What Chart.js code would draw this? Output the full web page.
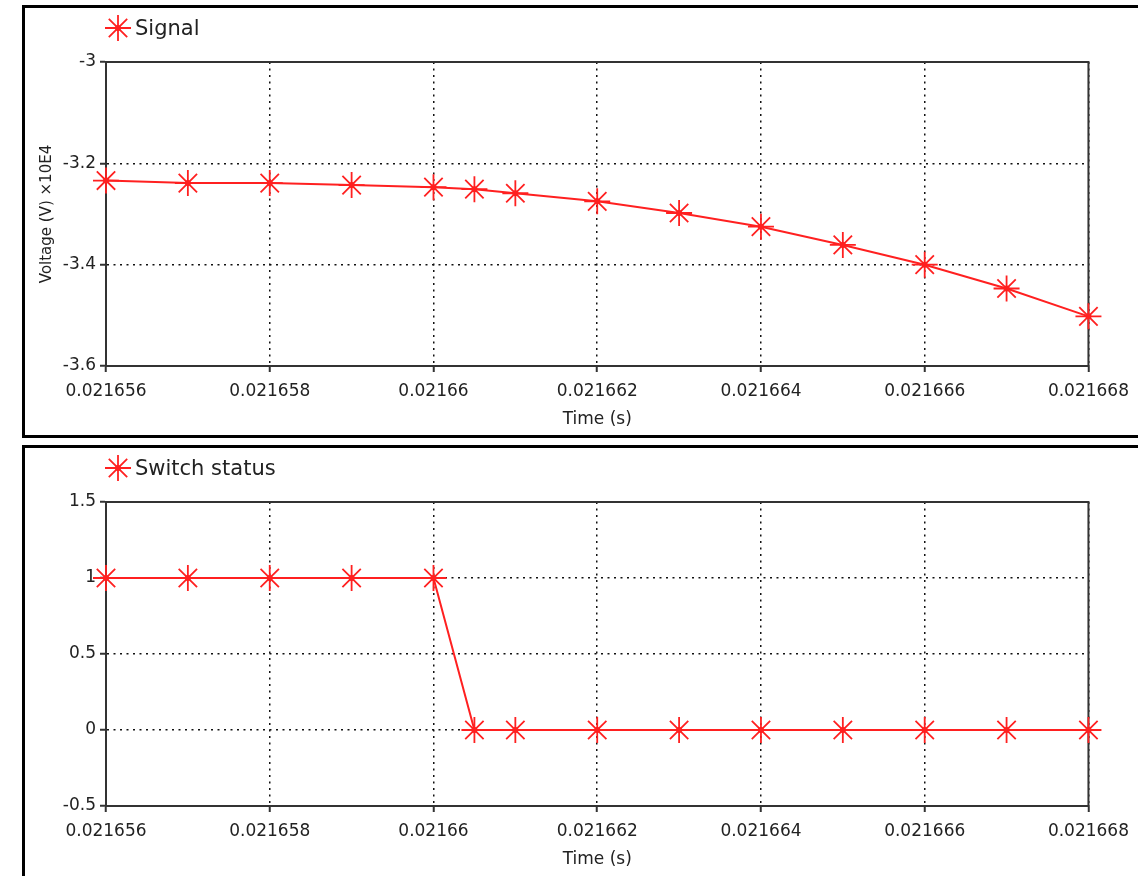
<!DOCTYPE html>
<html>
<head>
<meta charset="utf-8">
<script src="https://cdn.jsdelivr.net/npm/chart.js@4"></script>
<style>
  html, body { margin: 0; padding: 0; background: #fff; overflow: hidden; width: 1138px; height: 876px; }
  .frame { position: absolute; border: 3px solid #000; box-sizing: border-box; }
  canvas { position: absolute; left: 0; }
</style>
</head>
<body>
<div class="frame" style="left:22px;top:5px;width:1130px;height:433px"></div>
<div class="frame" style="left:22px;top:445px;width:1130px;height:440px"></div>
<canvas id="signal" width="1138" height="440" style="top:0"></canvas>
<canvas id="switch" width="1138" height="440" style="top:440px"></canvas>
<script>
// values
const time = [0.021656, 0.021657, 0.021658, 0.021659, 0.02166, 0.0216605, 0.021661,
              0.021662, 0.021663, 0.021664, 0.021665, 0.021666, 0.021667, 0.021668];
const signal = [-3.234, -3.239, -3.239, -3.243, -3.247, -3.251, -3.259,
                -3.275, -3.298, -3.325, -3.361, -3.400, -3.447, -3.502];
const switchStatus = [1, 1, 1, 1, 1, 0, 0, 0, 0, 0, 0, 0, 0, 0];

const timeTicks = [0.021656, 0.021658, 0.02166, 0.021662, 0.021664, 0.021666, 0.021668];
const signalTicks = [-3.6, -3.4, -3.2, -3];
const switchTicks = [-0.5, 0, 0.5, 1, 1.5];

const RED = '#ff2020';
const INK = '#222';

Chart.defaults.font.family = "'DejaVu Sans', Verdana, sans-serif";
Chart.defaults.color = INK;

// solid box round the plot, drawn over the dotted grid
const boxPlugin = {
  id: 'box',
  beforeDatasetsDraw(chart) {
    const { ctx, chartArea: a } = chart;
    ctx.save();
    ctx.strokeStyle = '#333';
    ctx.lineWidth = 2;
    ctx.setLineDash([]);
    ctx.strokeRect(a.left, a.top, a.right - a.left, a.bottom - a.top);
    ctx.restore();
  },
  afterDatasetsDraw(chart) {
    // small filled dot in the middle of every star
    const { ctx } = chart;
    ctx.save();
    ctx.fillStyle = RED;
    chart.getDatasetMeta(0).data.forEach(p => {
      ctx.beginPath();
      ctx.arc(p.x, p.y, 3, 0, Math.PI * 2);
      ctx.fill();
    });
    ctx.restore();
  },
  afterDraw(chart) {
    // legend in the top-left corner of the panel
    const { ctx } = chart;
    const label = chart.data.datasets[0].label;
    ctx.save();
    ctx.strokeStyle = RED;
    ctx.fillStyle = RED;
    Chart.helpers.drawPoint(ctx, { pointStyle: 'star', radius: 13, borderWidth: 1.8, rotation: 0 }, 118, 28);
    ctx.beginPath();
    ctx.arc(118, 28, 3, 0, Math.PI * 2);
    ctx.fill();
    ctx.fillStyle = INK;
    ctx.font = "21px 'DejaVu Sans', Verdana, sans-serif";
    ctx.textBaseline = 'middle';
    ctx.fillText(label, 135, 30);
    ctx.restore();
  }
};

const gridOpts = {
  color: '#111',
  lineWidth: 1.5,
  tickLength: 6,
  tickWidth: 2,
  tickColor: '#333',
  tickBorderDash: []
};

function makePanel(id, label, values, yTicks, yTitle) {
  return new Chart(document.getElementById(id), {
    type: 'line',
    data: {
      datasets: [{
        label: label,
        data: time.map((t, i) => ({ x: t, y: values[i] })),
        borderColor: RED,
        backgroundColor: RED,
        borderWidth: 2,
        tension: 0,
        pointStyle: 'star',
        pointRadius: 13,
        pointBorderWidth: 1.8,
        pointBorderColor: RED,
        clip: false
      }]
    },
    options: {
      responsive: false,
      animation: false,
      layout: { padding: { top: 62, right: 48, left: 0, bottom: 0 } },
      plugins: { legend: { display: false }, tooltip: { enabled: false } },
      scales: {
        x: {
          type: 'linear',
          min: timeTicks[0],
          max: timeTicks[timeTicks.length - 1],
          afterBuildTicks: s => { s.ticks = timeTicks.map(v => ({ value: v })); },
          afterFit: s => { s.height = 74; },
          ticks: {
            font: { size: 17 },
            padding: 9,
            maxRotation: 0,
            autoSkip: false,
            callback: v => Number(v.toFixed(7)).toString()
          },
          grid: gridOpts,
          border: { display: true, color: '#333', width: 2, dash: [2, 4.5] },
          title: {
            display: true,
            text: 'Time (s)',
            font: { size: 17 },
            padding: { top: 0, bottom: 10 }
          }
        },
        y: {
          min: yTicks[0],
          max: yTicks[yTicks.length - 1],
          afterBuildTicks: s => { s.ticks = yTicks.map(v => ({ value: v })); },
          afterFit: s => { s.width = 106; },
          ticks: {
            font: { size: 17 },
            padding: 4,
            autoSkip: false,
            callback: v => String(v)
          },
          grid: gridOpts,
          border: { display: true, color: '#333', width: 2, dash: [2, 4.5] },
          title: {
            display: !!yTitle,
            text: yTitle || '',
            font: { size: 15 },
            padding: { top: 38, bottom: 0 }
          }
        }
      }
    },
    plugins: [boxPlugin]
  });
}

makePanel('signal', 'Signal', signal, signalTicks, 'Voltage (V) \u00d710E4');
makePanel('switch', 'Switch status', switchStatus, switchTicks, null);
</script>
</body>
</html>
